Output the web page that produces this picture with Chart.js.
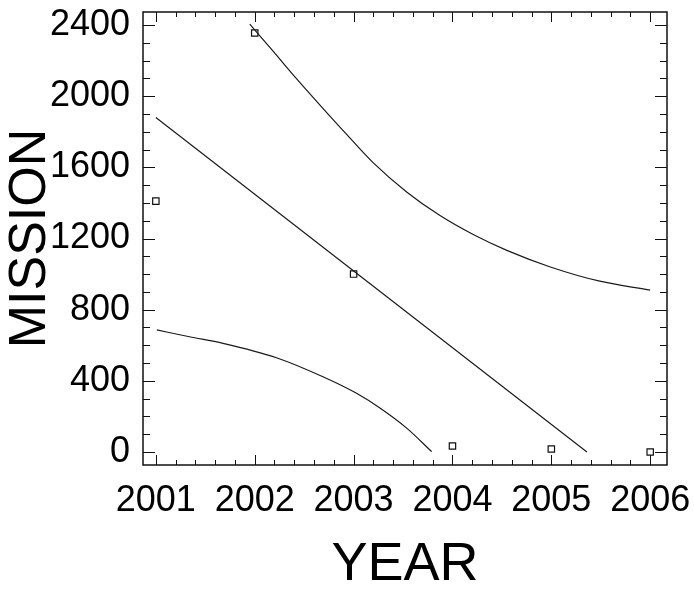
<!DOCTYPE html>
<html>
<head>
<meta charset="utf-8">
<script src="https://cdn.jsdelivr.net/npm/chart.js@4"></script>
<style>
  html, body { margin: 0; padding: 0; background: #fff; }
  #wrap { width: 694px; height: 589px; }
</style>
</head>
<body>
<div id="wrap"><canvas id="chart" width="694" height="589"></canvas></div>
<script>
// observed points
const years = [2001, 2002, 2003, 2004, 2005, 2006];
const missions = [1410, 2355, 1000, 34, 17, 0];

// fitted line and the two band curves
const fitX = [2001, 2005.36];
const fitY = [1880, 0];
const upperX = [2001.95, 2002.19, 2002.42, 2002.66, 2002.93, 2003.2, 2003.54, 2003.87, 2004.21, 2004.55, 2004.99, 2005.49, 2006.0];
const upperY = [2405, 2250, 2100, 1950, 1785, 1625, 1460, 1330, 1222, 1133, 1040, 960, 910];
const lowerX = [2001.01, 2001.34, 2001.68, 2002.22, 2002.69, 2003.03, 2003.27, 2003.54, 2003.79];
const lowerY = [686, 648, 611, 530, 423, 330, 246, 133, 2];

// axis ticks
const xTicks = [2001, 2002, 2003, 2004, 2005, 2006];
const yTicks = [0, 400, 800, 1200, 1600, 2000, 2400];
const xMinorStep = 0.2;
const yMinorStep = 100;

const toXY = (xs, ys) => xs.map((x, i) => ({ x: x, y: ys[i] }));

const lineStyle = {
    showLine: true,
    pointRadius: 0,
    borderColor: '#1a1a1a',
    borderWidth: 1.2,
    cubicInterpolationMode: 'monotone',
    fill: false
};

// frame with inward tick marks on all four sides
const frameTicks = {
    id: 'frameTicks',
    afterDraw(chart) {
        const { ctx, chartArea: a, scales: { x, y } } = chart;
        ctx.save();
        ctx.strokeStyle = '#111';
        ctx.lineWidth = 1.5;
        ctx.strokeRect(a.left, a.top, a.right - a.left, a.bottom - a.top);
        ctx.lineWidth = 1;
        ctx.beginPath();
        for (let v = xTicks[0]; v <= xTicks[xTicks.length - 1] + 1e-6; v += xMinorStep) {
            const major = Math.abs(v - Math.round(v)) < 1e-6;
            const len = major ? 10 : 5;
            const px = Math.round(x.getPixelForValue(v)) + 0.5;
            ctx.moveTo(px, a.bottom); ctx.lineTo(px, a.bottom - len);
            ctx.moveTo(px, a.top); ctx.lineTo(px, a.top + len);
        }
        for (let v = yTicks[0]; v <= y.max; v += yMinorStep) {
            const major = v % 400 === 0;
            const len = major ? 12 : 7;
            const py = Math.round(y.getPixelForValue(v)) + 0.5;
            ctx.moveTo(a.left, py); ctx.lineTo(a.left + len, py);
            ctx.moveTo(a.right, py); ctx.lineTo(a.right - len, py);
        }
        ctx.stroke();
        ctx.restore();
    }
};

new Chart(document.getElementById('chart'), {
    type: 'scatter',
    data: {
        datasets: [
            Object.assign({ data: toXY(fitX, fitY) }, lineStyle),
            Object.assign({ data: toXY(upperX, upperY) }, lineStyle),
            Object.assign({ data: toXY(lowerX, lowerY) }, lineStyle),
            {
                data: toXY(years, missions),
                pointStyle: 'rect',
                pointRadius: 4.5,
                borderColor: '#111',
                borderWidth: 1.2,
                backgroundColor: '#fff'
            }
        ]
    },
    options: {
        responsive: false,
        animation: false,
        layout: { padding: { top: 12, right: 27, left: 0, bottom: 0 } },
        plugins: { legend: { display: false }, tooltip: { enabled: false } },
        scales: {
            x: {
                type: 'linear',
                min: 2000.87,
                max: 2006.17,
                afterBuildTicks: (s) => { s.ticks = xTicks.map(v => ({ value: v })); },
                afterFit: (s) => { s.height = 124; s.paddingLeft = 0; s.paddingRight = 0; },
                grid: { display: false, drawTicks: false },
                border: { display: false },
                ticks: {
                    color: '#000',
                    padding: 18,
                    font: { family: 'Liberation Sans, Arial, sans-serif', size: 36, lineHeight: 1 },
                    maxRotation: 0,
                    callback: (v) => String(v)
                },
                title: {
                    display: true,
                    text: 'YEAR',
                    color: '#000',
                    padding: 0,
                    font: { family: 'Liberation Sans, Arial, sans-serif', size: 54, lineHeight: 0.9 }
                }
            },
            y: {
                type: 'linear',
                min: -73,
                max: 2473,
                afterBuildTicks: (s) => { s.ticks = yTicks.map(v => ({ value: v })); },
                afterFit: (s) => { s.width = 143; s.paddingTop = 0; s.paddingBottom = 0; },
                grid: { display: false, drawTicks: false },
                border: { display: false },
                ticks: {
                    color: '#000',
                    padding: 13,
                    font: { family: 'Liberation Sans, Arial, sans-serif', size: 36, lineHeight: 1 },
                    callback: (v) => String(v)
                },
                title: {
                    display: true,
                    text: 'MISSION',
                    color: '#000',
                    padding: { top: 5, bottom: 0 },
                    font: { family: 'Liberation Sans, Arial, sans-serif', size: 52, lineHeight: 1 }
                }
            }
        }
    },
    plugins: [frameTicks]
});
</script>
</body>
</html>
